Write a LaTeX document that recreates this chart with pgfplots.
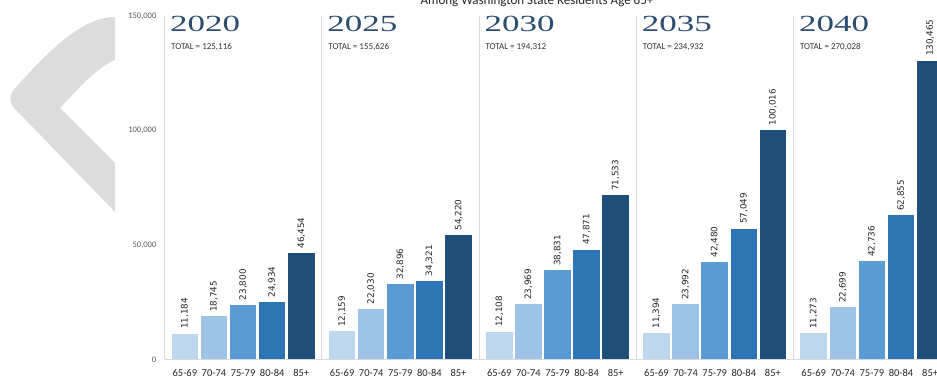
\documentclass[border=0pt]{standalone}
\usepackage{fontspec}
\setmainfont{Carlito}
\newfontfamily\dejavu{DejaVu Sans}
\newfontfamily\yearserif{Liberation Serif}
\newcommand\yearnum[1]{\scalebox{1}[0.66]{\yearserif\fontsize{35}{36}\selectfont #1}}
\usepackage{pgfplots}
\pgfplotsset{compat=1.18}
\definecolor{c1}{HTML}{BDD7EE}
\definecolor{c2}{HTML}{9DC3E6}
\definecolor{c3}{HTML}{5B9BD5}
\definecolor{c4}{HTML}{2E75B6}
\definecolor{c5}{HTML}{1F4E79}
\definecolor{yr}{HTML}{2C4C70}
\definecolor{chev}{HTML}{DCDCDC}
\definecolor{axl}{HTML}{D9D9D9}
\pgfplotsset{panel/.style={
  width=157.2pt, height=343.5pt, scale only axis,
  anchor=south west,
  xmin=-0.7, xmax=4.7, ymin=0, ymax=150000,
  axis x line*=bottom, axis y line*=left,
  axis line style={draw=axl, line width=0.8pt, -},
  major tick length=0pt,
  xtick={0,1,2,3,4}, xticklabels={65-69,70-74,75-79,80-84,85+},
  xticklabel style={font=\fontsize{10.5}{12}\selectfont, text=black!85, anchor=base, inner sep=0pt, yshift=-17pt},
  ytick=\empty,
  scaled y ticks=false,
  ybar, bar width=26.5pt,
  clip=false,
  nodes near coords,
  /pgf/number format/fixed, /pgf/number format/precision=0,
  /pgf/number format/1000 sep={,}, /pgf/number format/assume math mode=true,
  every node near coord/.append style={rotate=90, anchor=west, inner xsep=4.5pt, inner ysep=0pt, font=\dejavu\fontsize{8.8}{10}\selectfont, text=black!85},
}}
\newcommand\panel[9]{%
\begin{axis}[panel, at={(#1pt,19.7pt)}, #2]
\addplot[fill=c1, draw=none, bar shift=0pt] coordinates {(0,#5)};
\addplot[fill=c2, draw=none, bar shift=0pt] coordinates {(1,#6)};
\addplot[fill=c3, draw=none, bar shift=0pt] coordinates {(2,#7)};
\addplot[fill=c4, draw=none, bar shift=0pt] coordinates {(3,#8)};
\addplot[fill=c5, draw=none, bar shift=0pt] coordinates {(4,#9)};
\end{axis}
\node[anchor=base west, inner sep=0pt, text=yr] at (#1pt+5.5pt,347pt) {\yearnum{#3}};
\node[anchor=base west, inner sep=0pt, font=\fontsize{9}{10}\selectfont, text=black!80] at (#1pt+6.5pt,329.5pt) {TOTAL = #4};
}
\begin{document}
\begin{tikzpicture}
\useasboundingbox (0,0) rectangle (937pt,379pt);
\clip (0,0) rectangle (937pt,379pt);
% decorative chevron
\fill[chev] (115pt,362pt) .. controls (85pt,362pt) and (55pt,335pt) .. (17pt,293pt)
  .. controls (8pt,284pt) and (8pt,276pt) .. (17pt,268pt) -- (115pt,167pt)
  -- (115pt,216pt) -- (60pt,271pt) .. controls (80pt,292pt) and (95pt,310pt) .. (115pt,319pt) -- cycle;
\node[anchor=base, inner sep=0pt, font=\fontsize{13}{15}\selectfont, text=black!85] at (537pt,374pt) {Among Washington State Residents Age 65+};
\panel{164.5}{ytick={0,50000,100000,150000}, yticklabel style={font=\fontsize{8.5}{10}\selectfont, text=black!65, anchor=east, inner sep=0pt, xshift=-8pt}}{2020}{125,116}{11184}{18745}{23800}{24934}{46454}
\panel{321.7}{}{2025}{155,626}{12159}{22030}{32896}{34321}{54220}
\panel{478.9}{}{2030}{194,312}{12108}{23969}{38831}{47871}{71533}
\panel{636.1}{}{2035}{234,932}{11394}{23992}{42480}{57049}{100016}
\panel{793.3}{}{2040}{270,028}{11273}{22699}{42736}{62855}{130465}
\end{tikzpicture}
\end{document}
